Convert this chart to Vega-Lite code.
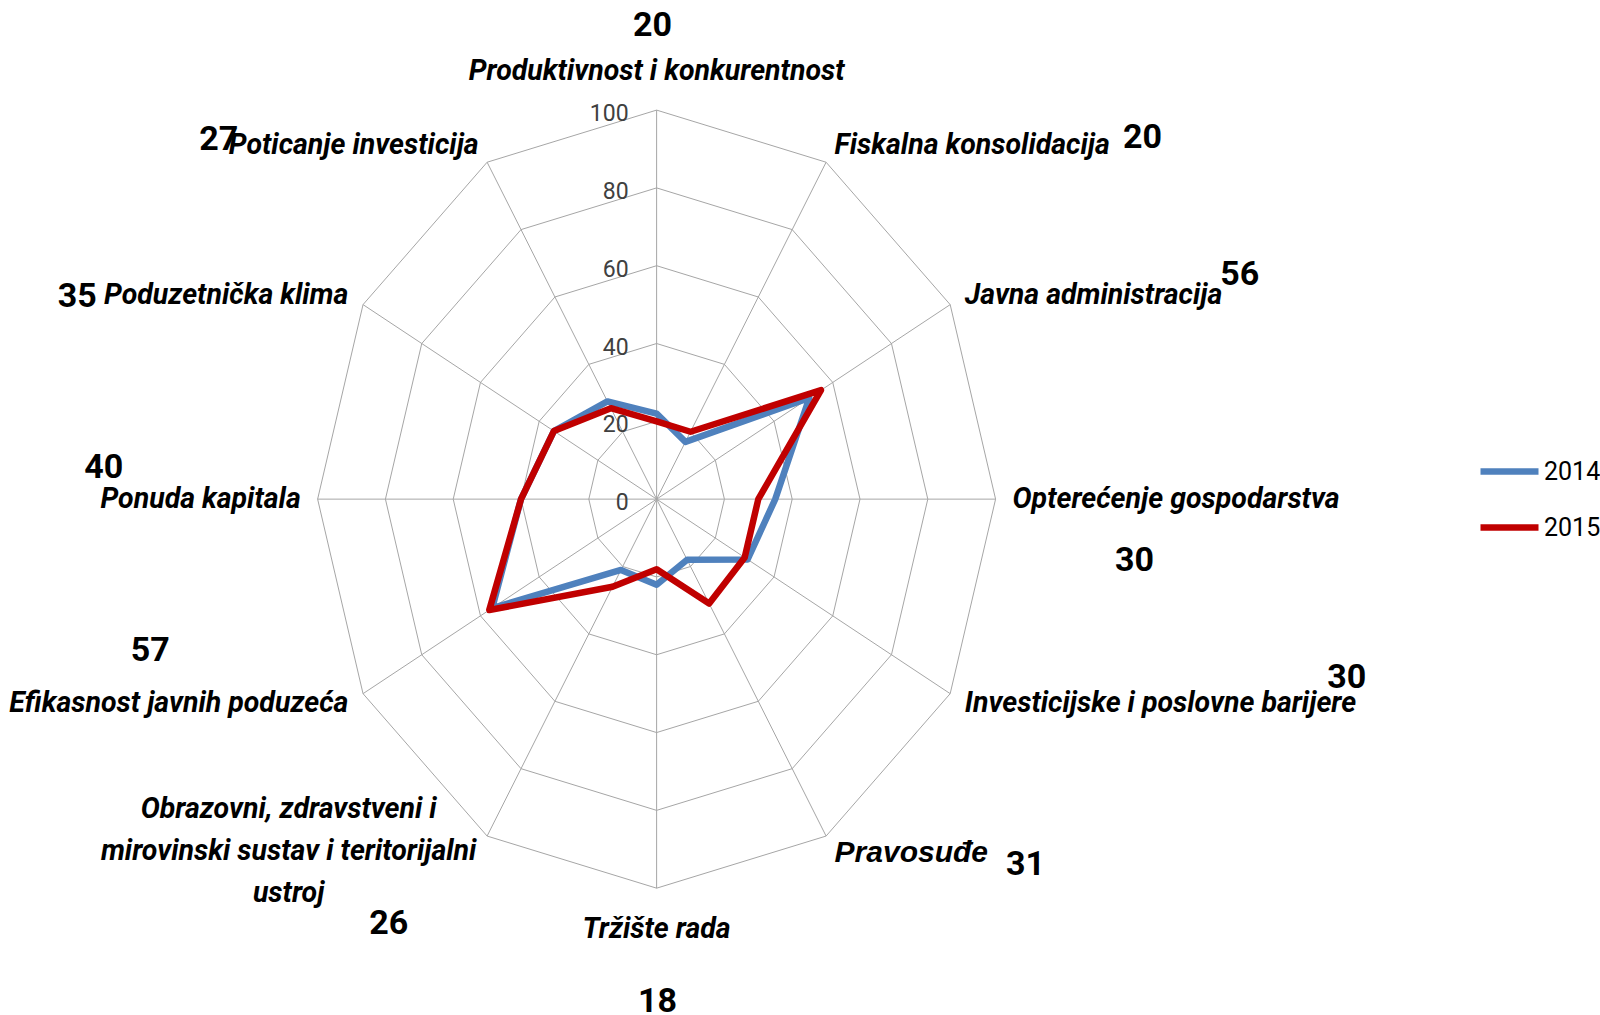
{
  "$schema": "https://vega.github.io/schema/vega-lite/v6.json",
  "width": 1600,
  "height": 1015,
  "autosize": {"type": "none"},
  "padding": 0,
  "background": "white",
  "config": {"view": {"stroke": null}},
  "data": {
    "values": [
      {"i": 0, "label": "Produktivnost i konkurentnost", "v2014": 22, "v2015": 20},
      {"i": 1, "label": "Fiskalna konsolidacija", "v2014": 17, "v2015": 20},
      {"i": 2, "label": "Javna administracija", "v2014": 52, "v2015": 56},
      {"i": 3, "label": "Opterećenje gospodarstva", "v2014": 35, "v2015": 30},
      {"i": 4, "label": "Investicijske i poslovne barijere", "v2014": 31, "v2015": 30},
      {"i": 5, "label": "Pravosuđe", "v2014": 18, "v2015": 31},
      {"i": 6, "label": "Tržište rada", "v2014": 22, "v2015": 18},
      {"i": 7, "label": "Obrazovni, zdravstveni i\nmirovinski sustav i teritorijalni\nustroj", "v2014": 21, "v2015": 26},
      {"i": 8, "label": "Efikasnost javnih poduzeća", "v2014": 56, "v2015": 57},
      {"i": 9, "label": "Ponuda kapitala", "v2014": 40, "v2015": 40},
      {"i": 10, "label": "Poduzetnička klima", "v2014": 35, "v2015": 35},
      {"i": 11, "label": "Poticanje investicija", "v2014": 29, "v2015": 27}
    ]
  },
  "transform": [
    {"calculate": "datum.i * PI / 6", "as": "ang"},
    {"calculate": "100 * sin(datum.ang)", "as": "vx"},
    {"calculate": "100 * cos(datum.ang)", "as": "vy"},
    {"calculate": "105 * sin(datum.ang)", "as": "lx"},
    {"calculate": "105 * cos(datum.ang)", "as": "ly"}
  ],
  "encoding": {
    "x": {"field": "lx", "type": "quantitative", "scale": {"domain": [-193.7, 278.3], "nice": false, "zero": false}, "axis": null},
    "y": {"field": "ly", "type": "quantitative", "scale": {"domain": [-132.6, 128.3], "nice": false, "zero": false}, "axis": null}
  },
  "layer": [
    {
      "mark": {"type": "rule", "color": "#a6a6a6", "strokeWidth": 1},
      "encoding": {
        "x": {"field": "vx", "type": "quantitative"},
        "y": {"field": "vy", "type": "quantitative"},
        "x2": {"datum": 0},
        "y2": {"datum": 0}
      }
    },
    {
      "transform": [
        {"calculate": "[20, 40, 60, 80, 100]", "as": "ring"},
        {"flatten": ["ring"]},
        {"calculate": "datum.ring * sin(datum.ang)", "as": "rx"},
        {"calculate": "datum.ring * cos(datum.ang)", "as": "ry"}
      ],
      "mark": {"type": "line", "interpolate": "linear-closed", "color": "#a6a6a6", "strokeWidth": 1},
      "encoding": {
        "x": {"field": "rx", "type": "quantitative"},
        "y": {"field": "ry", "type": "quantitative"},
        "detail": {"field": "ring", "type": "nominal"},
        "order": {"field": "i", "type": "quantitative"}
      }
    },
    {
      "transform": [
        {"filter": "datum.i == 0"},
        {"calculate": "[0, 20, 40, 60, 80, 100]", "as": "tick"},
        {"flatten": ["tick"]},
        {"calculate": "0", "as": "tx"}
      ],
      "mark": {"type": "text", "align": "right", "baseline": "middle", "dx": -28, "dy": 4, "font": "Roboto, sans-serif", "fontSize": 23, "color": "#404040"},
      "encoding": {
        "x": {"field": "tx", "type": "quantitative"},
        "y": {"field": "tick", "type": "quantitative"},
        "text": {"field": "tick", "type": "quantitative"}
      }
    },
    {
      "transform": [
        {"fold": ["v2014", "v2015"], "as": ["key", "value"]},
        {"calculate": "datum.key == 'v2014' ? '2014' : '2015'", "as": "series"},
        {"calculate": "datum.value * sin(datum.ang)", "as": "px"},
        {"calculate": "datum.value * cos(datum.ang)", "as": "py"}
      ],
      "mark": {"type": "line", "interpolate": "linear-closed", "strokeJoin": "round", "strokeCap": "round", "strokeWidth": 6.5},
      "encoding": {
        "x": {"field": "px", "type": "quantitative"},
        "y": {"field": "py", "type": "quantitative"},
        "order": {"field": "i", "type": "quantitative"},
        "color": {
          "field": "series", "type": "nominal",
          "scale": {"domain": ["2014", "2015"], "range": ["#4f81bd", "#c00000"]},
          "legend": {
            "title": null, "orient": "none", "legendX": 1477, "legendY": 439,
            "symbolType": "stroke", "symbolSize": 3364, "symbolStrokeWidth": 6.5,
            "labelFont": "Roboto, sans-serif", "labelFontSize": 25, "labelColor": "#000000",
            "labelOffset": 2, "rowPadding": 10, "padding": 0
          }
        }
      }
    },
    {
      "transform": [{"filter": "datum.i >= 1 && datum.i <= 4"}],
      "mark": {"type": "text", "align": "left", "baseline": "middle", "font": "Roboto, sans-serif", "fontSize": 28.5, "fontWeight": "bold", "fontStyle": "italic", "color": "#000000"},
      "encoding": {"text": {"field": "label"}}
    },
    {
      "transform": [{"filter": "datum.i == 5"}],
      "mark": {"type": "text", "align": "left", "baseline": "middle", "font": "Liberation Sans, Arial, sans-serif", "fontSize": 30, "fontWeight": "bold", "fontStyle": "italic", "color": "#000000"},
      "encoding": {"text": {"field": "label"}}
    },
    {
      "transform": [{"filter": "datum.i >= 8"}],
      "mark": {"type": "text", "align": "right", "baseline": "middle", "font": "Roboto, sans-serif", "fontSize": 28.5, "fontWeight": "bold", "fontStyle": "italic", "color": "#000000"},
      "encoding": {"text": {"field": "label"}}
    },
    {
      "transform": [{"filter": "datum.i == 0"}],
      "mark": {"type": "text", "align": "center", "baseline": "middle", "dy": -20, "font": "Roboto, sans-serif", "fontSize": 28.5, "fontWeight": "bold", "fontStyle": "italic", "color": "#000000"},
      "encoding": {"text": {"field": "label"}}
    },
    {
      "transform": [{"filter": "datum.i == 6"}],
      "mark": {"type": "text", "align": "center", "baseline": "middle", "dy": 21, "font": "Roboto, sans-serif", "fontSize": 28.5, "fontWeight": "bold", "fontStyle": "italic", "color": "#000000"},
      "encoding": {"text": {"field": "label"}}
    },
    {
      "transform": [{"filter": "datum.i == 7"}],
      "mark": {"type": "text", "align": "center", "baseline": "middle", "dx": -190, "dy": -44, "lineBreak": "\n", "lineHeight": 42, "font": "Roboto, sans-serif", "fontSize": 28.5, "fontWeight": "bold", "fontStyle": "italic", "color": "#000000"},
      "encoding": {"text": {"field": "label"}}
    },
    {"transform": [{"filter": "datum.i == 0"}], "mark": {"type": "text", "dx": -4, "dy": -65, "align": "center", "baseline": "middle", "font": "Roboto, sans-serif", "fontSize": 34, "fontWeight": "bold", "color": "#000000"}, "encoding": {"text": {"field": "v2015", "type": "quantitative"}}},
    {"transform": [{"filter": "datum.i == 1"}], "mark": {"type": "text", "dx": 308, "dy": -7, "align": "center", "baseline": "middle", "font": "Roboto, sans-serif", "fontSize": 34, "fontWeight": "bold", "color": "#000000"}, "encoding": {"text": {"field": "v2015", "type": "quantitative"}}},
    {"transform": [{"filter": "datum.i == 2"}], "mark": {"type": "text", "dx": 275, "dy": -20, "align": "center", "baseline": "middle", "font": "Roboto, sans-serif", "fontSize": 34, "fontWeight": "bold", "color": "#000000"}, "encoding": {"text": {"field": "v2015", "type": "quantitative"}}},
    {"transform": [{"filter": "datum.i == 3"}], "mark": {"type": "text", "dx": 122, "dy": 62, "align": "center", "baseline": "middle", "font": "Roboto, sans-serif", "fontSize": 34, "fontWeight": "bold", "color": "#000000"}, "encoding": {"text": {"field": "v2015", "type": "quantitative"}}},
    {"transform": [{"filter": "datum.i == 4"}], "mark": {"type": "text", "dx": 382, "dy": -25, "align": "center", "baseline": "middle", "font": "Roboto, sans-serif", "fontSize": 34, "fontWeight": "bold", "color": "#000000"}, "encoding": {"text": {"field": "v2015", "type": "quantitative"}}},
    {"transform": [{"filter": "datum.i == 5"}], "mark": {"type": "text", "dx": 191, "dy": 12, "align": "center", "baseline": "middle", "font": "Roboto, sans-serif", "fontSize": 34, "fontWeight": "bold", "color": "#000000"}, "encoding": {"text": {"field": "v2015", "type": "quantitative"}}},
    {"transform": [{"filter": "datum.i == 6"}], "mark": {"type": "text", "dx": 1, "dy": 94, "align": "center", "baseline": "middle", "font": "Roboto, sans-serif", "fontSize": 34, "fontWeight": "bold", "color": "#000000"}, "encoding": {"text": {"field": "v2015", "type": "quantitative"}}},
    {"transform": [{"filter": "datum.i == 7"}], "mark": {"type": "text", "dx": -90, "dy": 71, "align": "center", "baseline": "middle", "font": "Roboto, sans-serif", "fontSize": 34, "fontWeight": "bold", "color": "#000000"}, "encoding": {"text": {"field": "v2015", "type": "quantitative"}}},
    {"transform": [{"filter": "datum.i == 8"}], "mark": {"type": "text", "dx": -198, "dy": -52, "align": "center", "baseline": "middle", "font": "Roboto, sans-serif", "fontSize": 34, "fontWeight": "bold", "color": "#000000"}, "encoding": {"text": {"field": "v2015", "type": "quantitative"}}},
    {"transform": [{"filter": "datum.i == 9"}], "mark": {"type": "text", "dx": -197, "dy": -31, "align": "center", "baseline": "middle", "font": "Roboto, sans-serif", "fontSize": 34, "fontWeight": "bold", "color": "#000000"}, "encoding": {"text": {"field": "v2015", "type": "quantitative"}}},
    {"transform": [{"filter": "datum.i == 10"}], "mark": {"type": "text", "dx": -271, "dy": 2, "align": "center", "baseline": "middle", "font": "Roboto, sans-serif", "fontSize": 34, "fontWeight": "bold", "color": "#000000"}, "encoding": {"text": {"field": "v2015", "type": "quantitative"}}},
    {"transform": [{"filter": "datum.i == 11"}], "mark": {"type": "text", "dx": -260, "dy": -5, "align": "center", "baseline": "middle", "font": "Roboto, sans-serif", "fontSize": 34, "fontWeight": "bold", "color": "#000000"}, "encoding": {"text": {"field": "v2015", "type": "quantitative"}}}
  ]
}
